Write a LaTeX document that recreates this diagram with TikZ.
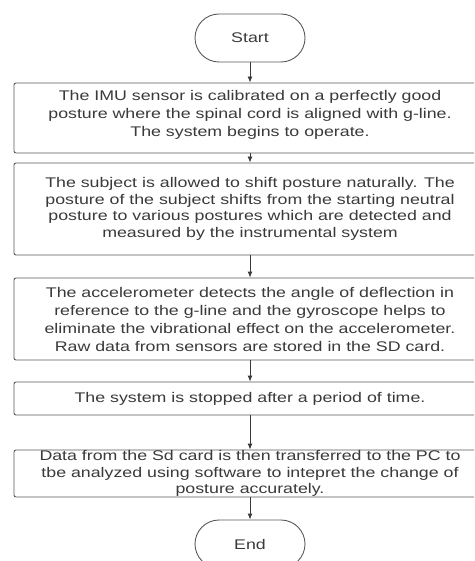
\documentclass[tikz,border=0pt]{standalone}
\usepackage{fontspec}
\setmainfont{Liberation Sans}
\newfontfamily\widefont[FakeStretch=1.27]{Liberation Sans}
\usetikzlibrary{arrows.meta}
\definecolor{edge}{HTML}{5A5A5A}
\definecolor{ink}{HTML}{3A3A3A}
\begin{document}
\begin{tikzpicture}[x=1pt,y=-1pt,
  box/.style={draw=edge, line width=0.9pt, rounded corners=2pt, minimum width=472pt,
    align=center, inner sep=0pt, text=ink, font=\widefont\fontsize{14}{16.5}\selectfont},
  term/.style={draw=edge, line width=0.9pt, rounded corners=24pt, minimum width=110pt,
    minimum height=48pt, inner sep=0pt, text=ink, font=\widefont\fontsize{14}{16.5}\selectfont},
  flow/.style={draw=ink, line width=0.9pt, -{Latex[length=6pt,width=5pt]}}]
\useasboundingbox (0,0) rectangle (474,561);
\clip (0,0) rectangle (474,561);
\fill[white] (0,0) rectangle (474,561);
\node[term] (start) at (250,38) {Start};
\node[box, minimum height=70pt, font=\widefont\fontsize{14}{18}\selectfont] (b1) at (250,118) {The IMU sensor is calibrated on a perfectly good\\posture where the spinal cord is aligned with g-line.\\The system begins to operate.\\[-8pt]\mbox{}};
\node[box, minimum height=92pt] (b2) at (250,209) {The subject is allowed to shift posture naturally. The\\posture of the subject shifts from the starting neutral\\posture to various postures which are detected and\\measured by the instrumental system};
\node[box, minimum height=82pt, font=\widefont\fontsize{14}{18}\selectfont] (b3) at (250,319) {The accelerometer detects the angle of deflection in\\reference to the g-line and the gyroscope helps to\\eliminate the vibrational effect on the accelerometer.\\Raw data from sensors are stored in the SD card.};
\node[box, minimum height=33pt] (b4) at (250,398.5) {The system is stopped after a period of time.};
\node[box, minimum height=47pt] (b5) at (250,473.5) {Data from the Sd card is then transferred to the PC to\\tbe analyzed using software to intepret the change of\\posture accurately.};
\node[term] (end) at (250,544) {End};
\draw[flow] (start) -- (b1);
\draw[flow] (b1) -- (b2);
\draw[flow] (b2) -- (b3);
\draw[flow] (b3) -- (b4);
\draw[flow] (b4) -- (b5);
\draw[flow] (b5) -- (end);
\end{tikzpicture}
\end{document}
